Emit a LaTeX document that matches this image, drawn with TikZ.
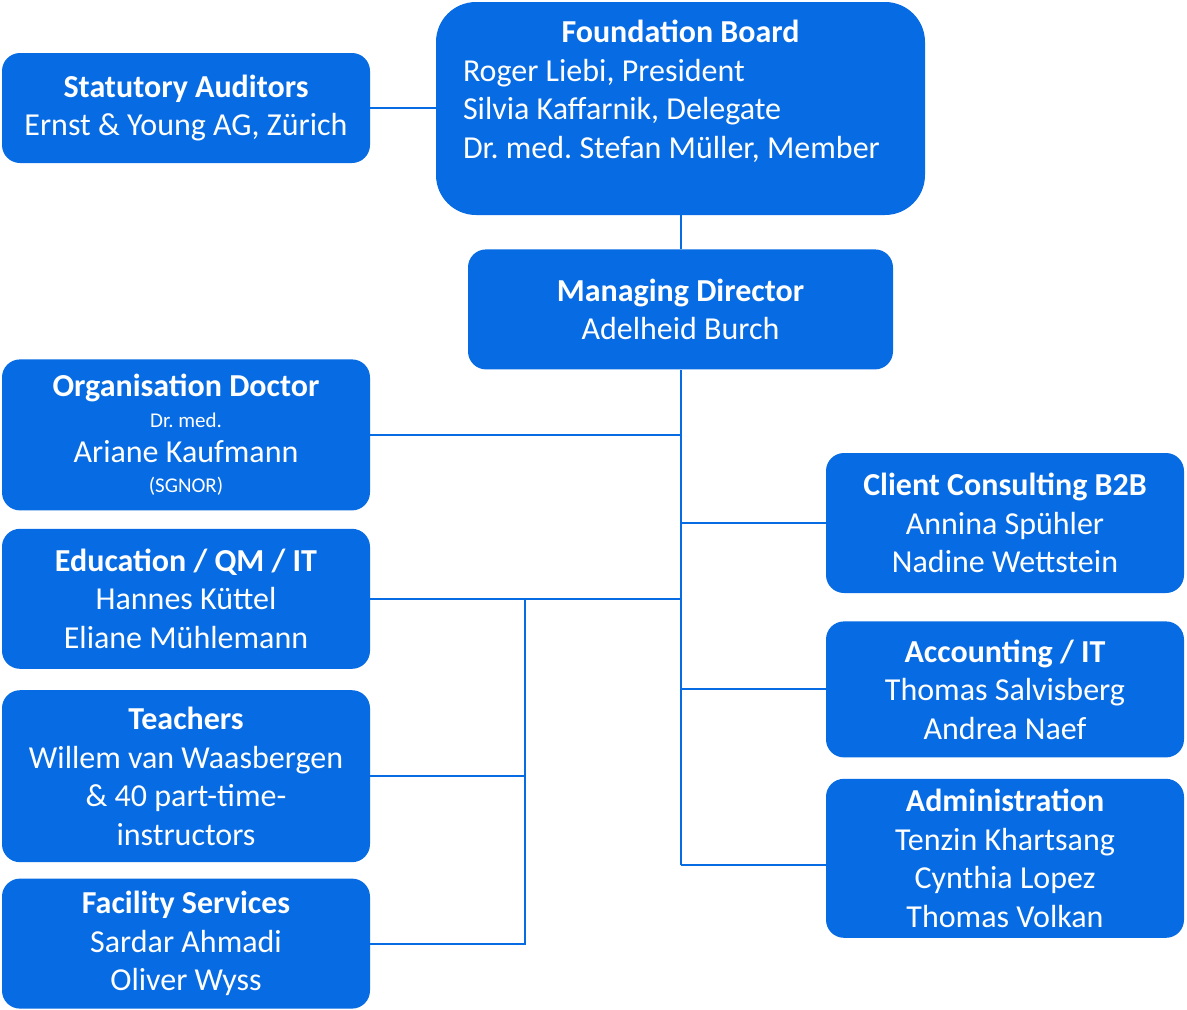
\documentclass[tikz,border=0pt]{standalone}
\usepackage{fontspec}
\setmainfont{Carlito}
\usetikzlibrary{positioning}
\definecolor{orgblue}{RGB}{7,107,227}
\newcommand{\smalltext}{\fontsize{21}{24}\selectfont}
\frenchspacing

\begin{document}
\begin{tikzpicture}[
    x=1pt, y=-1pt,
    every node/.style={font=\fontsize{32}{38.5}\selectfont, text=white},
    unit/.style={
      fill=orgblue,
      rounded corners=18pt,
      align=center,
      inner sep=0pt
    },
    leftunit/.style={unit, minimum width=368pt},
    rightunit/.style={unit, minimum width=358pt},
    link/.style={orgblue, line width=2pt}
  ]
    \useasboundingbox (0,0) rectangle (1187,1010);

    \node[unit, rounded corners=40pt, minimum width=489pt, minimum height=213pt] (board) at (680.5,108.5)
      {\begin{minipage}[t][185pt][t]{435pt}
         \vspace*{4pt}
         {\centering\bfseries Foundation Board\par}
         \raggedright
         Roger Liebi, President\\
         Silvia Kaffarnik, Delegate\\
         Dr. med. Stefan Müller, Member
       \end{minipage}};
    \node[unit, minimum width=425pt, minimum height=120pt, below=34pt of board] (director)
      {\textbf{Managing Director}\\Adelheid Burch};

    \node[leftunit, minimum height=110pt] (auditors) at (186,108)
      {\textbf{Statutory Auditors}\\Ernst \& Young AG, Zürich};
    \node[leftunit, minimum height=151pt, below=196pt of auditors] (doctor)
      {\textbf{Organisation Doctor}\\[-8pt]{\smalltext Dr. med.}\\[-3pt]Ariane Kaufmann\\[-9pt]{\smalltext (SGNOR)}};
    \node[leftunit, minimum height=140pt, below=18pt of doctor] (education)
      {\textbf{Education / QM / IT}\\Hannes Küttel\\Eliane Mühlemann};
    \node[leftunit, minimum height=172pt, below=21pt of education] (teachers)
      {\textbf{Teachers}\\Willem van Waasbergen\\\& 40 part-time-\\instructors};
    \node[leftunit, minimum height=130pt, below=16pt of teachers] (facility)
      {\textbf{Facility Services}\\Sardar Ahmadi\\Oliver Wyss};

    \node[rightunit, minimum height=140pt] (consulting) at (1005,523)
      {\textbf{Client Consulting B2B}\\Annina Spühler\\Nadine Wettstein};
    \node[rightunit, minimum height=136pt, below=28pt of consulting] (accounting)
      {\textbf{Accounting / IT}\\Thomas Salvisberg\\Andrea Naef};
    \node[rightunit, minimum height=159pt, below=21pt of accounting] (admin)
      {\textbf{Administration}\\Tenzin Khartsang\\Cynthia Lopez\\Thomas Volkan};

    \coordinate (trunkend) at (0,865);
    \coordinate (spine) at (525,0);

    \draw[link] (auditors.east) -- (auditors.east -| board.west);
    \draw[link] (board) -- (director);
    \draw[link] (director.south) -- (director.south |- trunkend);
    \draw[link] (doctor.east) -- (doctor.east -| director.south);
    \draw[link] (director.south |- consulting.west) -- (consulting.west);
    \draw[link] (education.east) -- (education.east -| director.south);
    \draw[link] (director.south |- accounting.west) -- (accounting.west);
    \draw[link] (director.south |- trunkend) -- (admin.west |- trunkend);
    \draw[link] (education.east -| spine) |- (facility.east);
    \draw[link] (teachers.east) -- (teachers.east -| spine);
  \end{tikzpicture}
\end{document}
